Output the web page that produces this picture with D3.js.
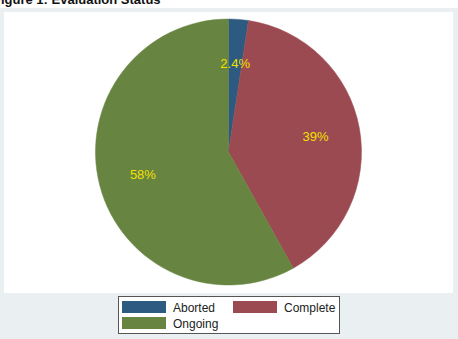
<!DOCTYPE html>
<html>
<head>
<meta charset="utf-8">
<script src="https://cdn.jsdelivr.net/npm/d3@7"></script>
<style>
  body { margin: 0; background: #fff; }
  svg { display: block; font-family: "Liberation Sans", Arial, sans-serif; }
</style>
</head>
<body>
<script>
const width = 458;
const height = 339;

const categories = ["Aborted", "Complete", "Ongoing"];
const values = [2.4, 39.5, 58.1];
const labels = ["2.4%", "39%", "58%"];
const colors = ["#2d5a80", "#9b4a51", "#678441"];

const svg = d3
  .select("body")
  .append("svg")
  .attr("width", width)
  .attr("height", height);

// outer graph region
svg.append("rect")
  .attr("x", 0).attr("y", 8)
  .attr("width", width).attr("height", height - 8)
  .attr("fill", "#eaf0f2");

// plot region
svg.append("rect")
  .attr("x", 4).attr("y", 12)
  .attr("width", 449).attr("height", 281)
  .attr("fill", "#ffffff");

// title, partly above the top edge as in the source
svg.append("text")
  .attr("x", -7).attr("y", 4)
  .attr("font-weight", "bold")
  .attr("font-size", 13)
  .attr("fill", "#111")
  .text("Figure 1: Evaluation Status");

const cx = 228.5, cy = 152, r = 133;

const pie = d3.pie().sort(null).value((d) => d.value);
const arc = d3.arc().innerRadius(0).outerRadius(r);
const labelArc = d3.arc().innerRadius(r * 0.665).outerRadius(r * 0.665);

const data = categories.map((c, i) => ({ name: c, value: values[i], label: labels[i], color: colors[i] }));
const arcs = pie(data);

const g = svg.append("g").attr("transform", `translate(${cx},${cy})`);

g.selectAll("path")
  .data(arcs)
  .enter()
  .append("path")
  .attr("d", arc)
  .attr("fill", (d) => d.data.color)
  .attr("stroke", (d) => d.data.color)
  .attr("stroke-width", 0.5);

g.selectAll("text")
  .data(arcs)
  .enter()
  .append("text")
  .attr("transform", (d) => `translate(${labelArc.centroid(d)})`)
  .attr("text-anchor", "middle")
  .attr("dy", "0.36em")
  .attr("font-size", 13)
  .attr("fill", "#f0e000")
  .text((d) => d.data.label);

// legend
const legend = svg.append("g");
legend.append("rect")
  .attr("x", 118.5).attr("y", 296.5)
  .attr("width", 221).attr("height", 37)
  .attr("fill", "#fff")
  .attr("stroke", "#555")
  .attr("stroke-width", 1);

const cols = [122, 233];
const rows = [301, 317];
data.forEach((d, i) => {
  const col = i % 2, row = Math.floor(i / 2);
  legend.append("rect")
    .attr("x", cols[col]).attr("y", rows[row])
    .attr("width", 44).attr("height", 12)
    .attr("fill", d.color);
  legend.append("text")
    .attr("x", cols[col] + 51).attr("y", rows[row] + 10.5)
    .attr("font-size", 12)
    .attr("fill", "#222")
    .text(d.name);
});
</script>
</body>
</html>
